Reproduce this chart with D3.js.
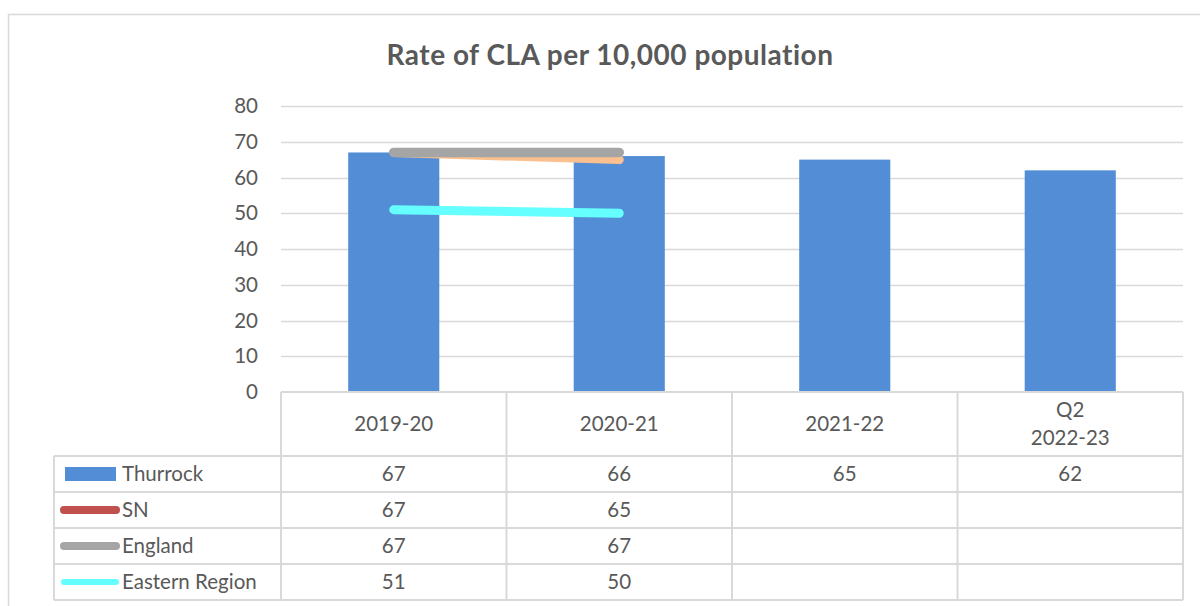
<!DOCTYPE html>
<html><head><meta charset="utf-8">
<script src="https://cdn.jsdelivr.net/npm/d3@7/dist/d3.min.js"></script>
<style>html,body{margin:0;padding:0;background:#fff;}svg{display:block;}</style>
</head><body>
<svg id="c" width="1200" height="606"></svg>
<script>
const title = "Rate of CLA per 10,000 population";
const categories = [["2019-20"], ["2020-21"], ["2021-22"], ["Q2", "2022-23"]];
const thurrock = [67, 66, 65, 62];
const sn = [67, 65, null, null];
const england = [67, 67, null, null];
const eastern = [51, 50, null, null];
const yTicks = [0, 10, 20, 30, 40, 50, 60, 70, 80];
const seriesNames = ["Thurrock", "SN", "England", "Eastern Region"];

const svg = d3.select("#c");
const textCol = "#595959", gridCol = "#d9d9d9";
const font = "Lato, 'Open Sans', sans-serif";
const fs = 20.5;

// outer frame
svg.append("path").attr("d", "M8.5,620 V14.5 H1220").attr("fill", "none").attr("stroke", gridCol).attr("stroke-width", 1.5);

svg.append("text").attr("x", 610).attr("y", 65).attr("text-anchor", "middle")
  .attr("font-family", font).attr("font-weight", "bold").attr("font-size", 28)
  .attr("letter-spacing", 0.5)
  .attr("fill", textCol).text(title);

const x = d3.scaleBand().domain(d3.range(categories.length)).range([281, 1183]).paddingInner(0).paddingOuter(0);
const y = d3.scaleLinear().domain([0, 80]).range([392, 106]);

// gridlines
svg.append("g").selectAll("line").data(yTicks.filter(d => d > 0)).join("line")
  .attr("x1", 281).attr("x2", 1183).attr("y1", d => Math.round(y(d)) + 0.5).attr("y2", d => Math.round(y(d)) + 0.5)
  .attr("stroke", gridCol).attr("stroke-width", 1.3);

// y axis labels
const yAxis = d3.axisLeft(y).tickValues(yTicks).tickSize(0).tickPadding(0);
const ga = svg.append("g").attr("transform", "translate(258,0)").call(yAxis);
ga.select(".domain").remove();
ga.selectAll("text").attr("font-family", font).attr("font-size", fs).attr("fill", textCol);

// bars
const bw = x.bandwidth() * 0.404;
svg.append("g").selectAll("rect").data(thurrock).join("rect")
  .attr("x", (d, i) => x(i) + x.bandwidth() / 2 - bw / 2).attr("width", bw)
  .attr("y", d => y(d)).attr("height", d => y(0) - y(d)).attr("fill", "#538dd5");

// lines
const lineSeries = [
  {vals: sn, col: "#fac08f", w: 9},
  {vals: england, col: "#a5a5a5", w: 9.5},
  {vals: eastern, col: "#66ffff", w: 9}
];
const line = d3.line().defined(d => d != null).x((d, i) => x(i) + x.bandwidth() / 2).y(d => y(d));
lineSeries.forEach(s => {
  svg.append("path").datum(s.vals).attr("d", line).attr("fill", "none")
    .attr("stroke", s.col).attr("stroke-width", s.w).attr("stroke-linecap", "round").attr("stroke-linejoin", "round");
});

// data table
const rowY = [392, 456, 492, 528, 564, 600];
const tl = 54, tr = 1183;
const tg = svg.append("g").attr("stroke", gridCol).attr("stroke-width", 2).attr("fill", "none");
tg.append("line").attr("x1", 281).attr("x2", tr).attr("y1", rowY[0]).attr("y2", rowY[0]);
rowY.slice(1).forEach(r => tg.append("line").attr("x1", tl).attr("x2", tr).attr("y1", r).attr("y2", r));
tg.append("line").attr("x1", tl).attr("x2", tl).attr("y1", rowY[1]).attr("y2", rowY[5]);
d3.range(categories.length + 1).forEach(i => {
  const xx = i < categories.length ? x(i) : tr;
  tg.append("line").attr("x1", xx).attr("x2", xx).attr("y1", rowY[0]).attr("y2", rowY[5]);
});

const tt = svg.append("g").attr("font-family", font).attr("font-size", fs).attr("fill", textCol).attr("text-anchor", "middle");
categories.forEach((c, i) => {
  const cx = x(i) + x.bandwidth() / 2;
  const mid = (rowY[0] + rowY[1]) / 2;
  c.forEach((l, j) => {
    tt.append("text").attr("x", cx).attr("y", mid + (j - (c.length - 1) / 2) * 28).attr("dy", "0.35em").text(l);
  });
});
const tableSeries = [thurrock, sn, england, eastern];
tableSeries.forEach((vals, r) => {
  const cy = (rowY[r + 1] + rowY[r + 2]) / 2;
  vals.forEach((v, i) => {
    if (v == null) return;
    tt.append("text").attr("x", x(i) + x.bandwidth() / 2).attr("y", cy).attr("dy", "0.35em").text(v);
  });
});

// legend keys
const lg = svg.append("g");
seriesNames.forEach((n, r) => {
  const cy = (rowY[r + 1] + rowY[r + 2]) / 2;
  if (r === 0) {
    lg.append("rect").attr("x", 65).attr("y", cy - 7).attr("width", 51).attr("height", 14).attr("fill", "#538dd5");
  } else {
    const cols = ["#c0504d", "#a5a5a5", "#66ffff"];
    const ws = [8, 8, 6];
    lg.append("line").attr("x1", 64).attr("x2", 116).attr("y1", cy).attr("y2", cy)
      .attr("stroke", cols[r - 1]).attr("stroke-width", ws[r - 1]).attr("stroke-linecap", "round");
  }
  lg.append("text").attr("x", 122).attr("y", cy).attr("dy", "0.35em")
    .attr("font-family", font).attr("font-size", fs).attr("fill", textCol).text(n);
});
</script>
</body></html>
